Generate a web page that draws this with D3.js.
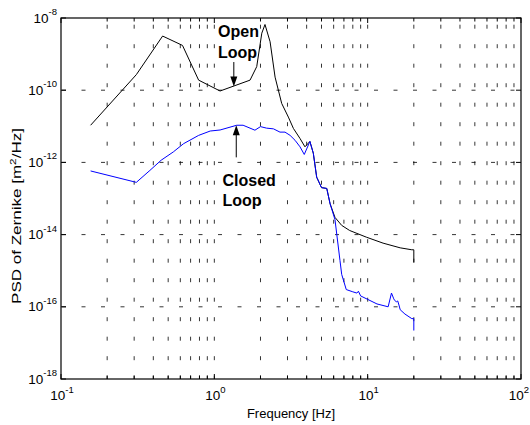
<!DOCTYPE html>
<html lang="en">
<head>
  <meta charset="UTF-8">
  <title>PSD of Zernike</title>
  <script src="https://d3js.org/d3.v7.min.js"></script>
  <style>
    body { margin: 0; background: white; }
    svg { display: block; font-family: "Liberation Sans", Arial, sans-serif; }
  </style>
</head>
<body>
  <div id="chart"></div>

  <script>
    // Open loop PSD [Hz, m^2/Hz]
    const openFreq = [0.156, 0.31, 0.46, 0.62, 0.79, 1.09, 1.71, 1.89, 2.04, 2.14, 2.31, 2.49,
      2.75, 3.04, 3.28, 3.62, 3.9, 4.2, 4.42, 4.65, 5.0, 5.41, 5.69, 6.12, 6.77, 7.63,
      9.8, 12.6, 16.3, 19.4, 20, 20];
    const openPsd = [1.07e-11, 2.7e-10, 3.16e-9, 1.74e-9, 1.9e-10, 9.5e-11, 1.9e-10, 4.5e-10, 3.8e-9, 6.6e-9, 2.2e-9, 2.3e-10,
      4.3e-11, 1.8e-11, 8.7e-12, 4.6e-12, 2.7e-12, 3.8e-12, 1.8e-12, 3.9e-13, 2.0e-13, 1.9e-13, 7.1e-14, 3.0e-14, 1.8e-14, 1.3e-14,
      8.5e-15, 5.8e-15, 4.3e-15, 3.8e-15, 3.8e-15, 1.7e-15];

    // Closed loop PSD
    const closedFreq = [0.156, 0.31, 0.38, 0.45, 0.54, 0.63, 0.79, 0.94, 1.09, 1.4, 1.54, 1.84, 2.0, 2.19,
      2.43, 2.68, 2.89, 3.12, 3.36, 3.62, 3.86, 4.2, 4.42, 4.65, 5.0, 5.41, 5.69, 6.12, 6.6, 6.77,
      7.25, 8.0, 8.5, 8.7, 9.0, 11.5, 13.6, 14.3, 14.8, 15.0, 15.4, 15.7, 16.0, 16.3, 17.5, 19.4, 20, 20];
    const closedPsd = [5.8e-13, 2.8e-13, 6.0e-13, 1.15e-12, 1.95e-12, 3.3e-12, 5.6e-12, 7.4e-12, 7.9e-12, 1.07e-11, 1.07e-11, 7.8e-12, 9.8e-12, 8.9e-12,
      8.5e-12, 6.9e-12, 6.9e-12, 5.6e-12, 4.1e-12, 2.7e-12, 1.66e-12, 3.8e-12, 1.8e-12, 3.9e-13, 2.0e-13, 1.9e-13, 7.1e-14, 2.6e-14, 1.9e-15, 7.9e-16,
      3.0e-16, 2.6e-16, 2.4e-16, 2.7e-16, 2.0e-16, 1.2e-16, 1.0e-16, 2.4e-16, 1.66e-16, 1.5e-16, 1.38e-16, 1.45e-16, 1.12e-16, 8.3e-17, 6.3e-17, 4.7e-17, 4.7e-17, 2.2e-17];

    // tick values
    const xMajor = [0.1, 1, 10, 100];
    const xMajorExp = ["-1", "0", "1", "2"];
    const yMajor = [1e-8, 1e-10, 1e-12, 1e-14, 1e-16, 1e-18];
    const yMajorExp = ["-8", "-10", "-12", "-14", "-16", "-18"];

    // annotations (data units)
    const labels = [
      { lines: ["Open", "Loop"], f: 1.057, y: [10 ** -8.53, 10 ** -9.1] },
      { lines: ["Closed", "Loop"], f: 1.13, y: [10 ** -12.64, 10 ** -13.22] }
    ];
    const arrows = [
      { f: 1.34, from: 10 ** -9.22, to: 10 ** -9.9 },
      { f: 1.39, from: 10 ** -11.86, to: 10 ** -10.97 }
    ];

    const width = 530, height = 425;
    const margin = { top: 18, right: 9, bottom: 46, left: 61 };

    const svg = d3.select("#chart").append("svg")
      .attr("width", width)
      .attr("height", height);

    const x = d3.scaleLog().domain([0.1, 100]).range([margin.left, width - margin.right]);
    const y = d3.scaleLog().domain([1e-18, 1e-8]).range([height - margin.bottom, margin.top]);

    // minor x ticks 0.2..0.9, 2..9, 20..90
    const xMinor = [];
    xMajor.slice(0, 3).forEach(d => { for (let k = 2; k <= 9; k++) xMinor.push(d * k); });

    const x0 = x.range()[0], x1 = x.range()[1];
    const y0 = y.range()[0], y1 = y.range()[1];

    // dotted grid (MATLAB style)
    const grid = svg.append("g").attr("stroke", "#000").attr("stroke-width", 0.8)
      .attr("stroke-dasharray", "4,15.5");
    grid.selectAll(".vg").data(xMinor.concat([1, 10]))
      .enter().append("line")
      .attr("x1", d => x(d)).attr("x2", d => x(d))
      .attr("y1", y1).attr("y2", y0)
      .attr("stroke-dashoffset", 12.8);
    grid.selectAll(".hg").data(yMajor.slice(1, -1))
      .enter().append("line")
      .attr("y1", d => y(d)).attr("y2", d => y(d))
      .attr("x1", x0).attr("x2", x1)
      .attr("stroke-dashoffset", 18.5);

    // curves
    const line = d3.line().x(d => x(d[0])).y(d => y(d[1]));
    svg.append("path")
      .datum(d3.zip(openFreq, openPsd))
      .attr("fill", "none").attr("stroke", "#000").attr("stroke-width", 1)
      .attr("d", line);
    svg.append("path")
      .datum(d3.zip(closedFreq, closedPsd))
      .attr("fill", "none").attr("stroke", "#0000ff").attr("stroke-width", 1)
      .attr("d", line);

    // box + ticks
    const ax = svg.append("g").attr("stroke", "#000");
    ax.append("rect")
      .attr("x", x0).attr("y", y1)
      .attr("width", x1 - x0).attr("height", y0 - y1)
      .attr("fill", "none").attr("stroke-width", 1.2);
    const tickX = (vals, len) => {
      vals.forEach(d => {
        ax.append("line").attr("x1", x(d)).attr("x2", x(d)).attr("y1", y0).attr("y2", y0 - len);
        ax.append("line").attr("x1", x(d)).attr("x2", x(d)).attr("y1", y1).attr("y2", y1 + len);
      });
    };
    tickX(xMajor, 5);
    tickX(xMinor, 3.5);
    yMajor.forEach(d => {
      ax.append("line").attr("y1", y(d)).attr("y2", y(d)).attr("x1", x0).attr("x2", x0 + 5);
      ax.append("line").attr("y1", y(d)).attr("y2", y(d)).attr("x1", x1).attr("x2", x1 - 5);
    });

    // tick labels with exponents
    const addPow = (sel, exp) => {
      sel.append("tspan").text("10");
      sel.append("tspan").attr("dy", -7.5).attr("font-size", 9.5).text(exp);
    };
    xMajor.forEach((d, i) => {
      const last = i === xMajor.length - 1;
      const t = svg.append("text")
        .attr("x", last ? width - 1 : x(d) + 1).attr("y", y0 + 21)
        .attr("text-anchor", last ? "end" : "middle").attr("font-size", 13.5);
      addPow(t, xMajorExp[i]);
    });
    yMajor.forEach((d, i) => {
      const t = svg.append("text")
        .attr("x", x0 - 4).attr("y", y(d) + 4.5)
        .attr("text-anchor", "end").attr("font-size", 13.5);
      addPow(t, yMajorExp[i]);
    });

    // axis labels
    svg.append("text")
      .attr("x", (x0 + x1) / 2).attr("y", height - 7)
      .attr("text-anchor", "middle").attr("font-size", 13)
      .text("Frequency [Hz]");
    // y label is stretched along the axis in the original
    const yl = svg.append("text")
      .attr("transform", `translate(21,216) rotate(-90)`)
      .attr("text-anchor", "middle").attr("font-size", 13)
      .attr("textLength", 176).attr("lengthAdjust", "spacingAndGlyphs");
    yl.append("tspan").text("PSD of Zernike [m");
    yl.append("tspan").attr("dy", -5.5).attr("font-size", 9).text("2");
    yl.append("tspan").attr("dy", 5.5).text("/Hz]");

    // annotations
    labels.forEach(l => {
      l.lines.forEach((s, i) => {
        svg.append("text")
          .attr("x", x(l.f)).attr("y", y(l.y[i]))
          .attr("font-size", 16).attr("font-weight", "bold")
          .text(s);
      });
    });
    arrows.forEach(a => {
      const ax0 = x(a.f), ya = y(a.from), yb = y(a.to);
      const dir = yb > ya ? 1 : -1;
      svg.append("line")
        .attr("x1", ax0).attr("x2", ax0).attr("y1", ya).attr("y2", yb - dir * 9)
        .attr("stroke", "#000").attr("stroke-width", 1);
      svg.append("path")
        .attr("d", `M${ax0},${yb} L${ax0 - 3.5},${yb - dir * 10} L${ax0 + 3.5},${yb - dir * 10} Z`)
        .attr("fill", "#000");
    });
  </script>
</body>
</html>
